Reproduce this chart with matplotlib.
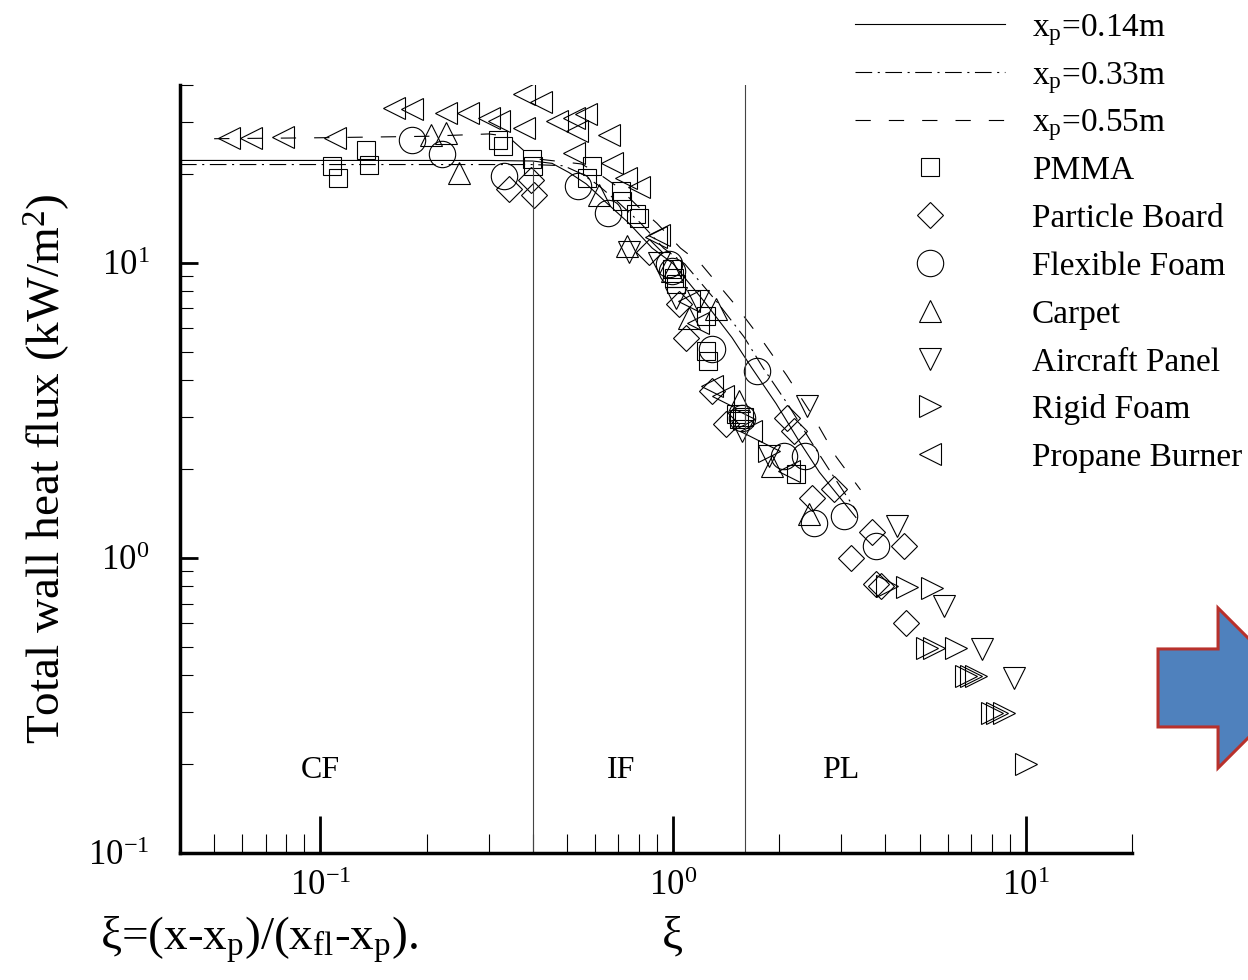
import matplotlib
matplotlib.use('Agg')
import matplotlib.pyplot as plt
from matplotlib.lines import Line2D
from matplotlib.patches import Polygon
from matplotlib.ticker import LogLocator, NullFormatter, FixedLocator, FixedFormatter

plt.rcParams['font.family'] = ['Liberation Serif', 'DejaVu Serif']
plt.rcParams['mathtext.fontset'] = 'custom'
plt.rcParams['mathtext.rm'] = 'Liberation Serif'
plt.rcParams['mathtext.it'] = 'Liberation Serif:italic'
plt.rcParams['lines.scale_dashes'] = False

# model curves (xi, total wall heat flux in kW/m2)
xi_014 = [0.04, 0.1, 0.2, 0.3, 0.4, 0.454, 0.507, 0.567, 0.646, 0.75, 0.873, 1.0, 1.24, 1.47, 1.67, 1.96, 2.27, 2.6, 3.3]
q_014 = [22.2, 22.2, 22.2, 22.2, 22.1, 21.7, 20.2, 18.5, 16.0, 13.6, 11.2, 9.93, 7.26, 5.57, 4.41, 3.33, 2.5, 1.95, 1.37]

xi_033 = [0.04, 0.1, 0.2, 0.3, 0.4, 0.49, 0.55, 0.61, 0.7, 0.81, 0.94, 1.08, 1.34, 1.59, 1.8, 2.12, 2.45, 2.8, 3.3]
q_033 = [21.5, 21.5, 21.5, 21.5, 21.5, 21.3, 20.0, 18.4, 16.0, 13.6, 11.2, 9.9, 7.3, 5.6, 4.4, 3.3, 2.5, 1.95, 1.45]

xi_055 = [0.05, 0.1, 0.2, 0.3, 0.34, 0.38, 0.42, 0.48, 0.55, 0.62, 0.7, 0.8, 0.9, 1.05, 1.2, 1.5, 1.8, 2.1, 2.5, 2.9, 3.4]
q_055 = [26.3, 26.5, 26.8, 27.3, 26.8, 23.8, 22.4, 22.0, 21.6, 19.9, 18.0, 15.4, 13.6, 11.2, 9.9, 7.2, 5.4, 4.15, 3.0, 2.2, 1.7]

# measurements
xi_pmma = [0.108, 0.112, 0.135, 0.137, 0.319, 0.330, 0.399, 0.401, 0.590, 0.571, 0.712, 0.717, 0.786, 0.801,
           0.994, 1.007, 1.02, 1.24, 1.24, 1.26, 1.51, 1.54, 1.59, 2.23]
q_pmma = [21.3, 19.4, 24.0, 21.5, 26.1, 24.9, 22.5, 21.2, 21.3, 19.4, 17.5, 16.2, 14.6, 14.2,
          9.54, 8.89, 8.48, 6.61, 5.03, 4.65, 3.08, 2.96, 3.0, 1.93]

xi_board = [0.343, 0.396, 0.404, 0.855, 1.04, 1.09, 1.29, 1.41, 2.10, 2.20, 2.48, 2.86, 3.19, 3.66, 3.76, 3.88, 4.51, 4.57]
q_board = [17.8, 19.0, 16.9, 10.9, 7.26, 5.57, 3.68, 2.85, 2.98, 2.70, 1.60, 1.71, 1.0, 1.22, 0.817, 0.80, 1.10, 0.60]

xi_flex = [0.182, 0.222, 0.332, 0.538, 0.654, 0.975, 0.994, 1.29, 1.57, 1.73, 2.06, 2.37, 2.51, 3.05, 3.76]
q_flex = [26.1, 23.4, 19.7, 18.2, 14.7, 9.93, 9.4, 5.11, 2.98, 4.30, 2.22, 2.22, 1.31, 1.39, 1.10]

xi_carpet = [0.206, 0.227, 0.248, 0.617, 0.741, 0.994, 1.11, 1.32, 1.54, 1.91, 2.43]
q_carpet = [27.0, 27.4, 20.2, 16.9, 11.4, 9.4, 6.5, 6.98, 3.41, 2.05, 1.41]

xi_panel = [0.750, 0.913, 1.02, 1.18, 1.57, 1.87, 2.40, 4.31, 5.86, 7.50, 9.25]
q_panel = [10.9, 10.0, 7.61, 7.43, 2.70, 2.22, 3.28, 1.28, 0.688, 0.492, 0.392]

xi_rigid = [1.59, 1.87, 4.04, 4.60, 5.42, 5.24, 5.49, 6.34, 6.76, 7.0, 7.25, 8.01, 8.27, 8.66, 10.0]
q_rigid = [2.96, 2.30, 0.80, 0.797, 0.791, 0.495, 0.495, 0.495, 0.398, 0.398, 0.398, 0.298, 0.298, 0.298, 0.2]

xi_propane = [0.0552, 0.0634, 0.0785, 0.110, 0.162, 0.182, 0.227, 0.263, 0.301, 0.321, 0.378, 0.423, 0.378,
              0.469, 0.524, 0.567, 0.535, 0.659, 0.524, 0.672, 0.736, 0.801, 0.895, 0.913, 1.11, 1.18, 1.29,
              1.39, 1.66, 2.13]
q_propane = [26.5, 26.5, 26.7, 26.5, 33.5, 33.2, 32.2, 32.2, 31.0, 30.3, 37.4, 34.9, 28.7,
             30.3, 31.0, 32.0, 28.0, 27.0, 23.6, 21.7, 19.4, 18.0, 12.2, 12.4, 7.43, 6.25, 3.83,
             3.54, 2.70, 1.97]

regime_bounds = [0.4, 1.6]
regime_tops = [22.0, 40.0]
regime_names = ['CF', 'IF', 'PL']
regime_x = [0.1, 0.713, 2.99]
regime_y = 0.19

tick_vals = [0.1, 1, 10]
tick_text = [r'10$^\mathregular{-1}$', r'10$^\mathregular{0}$', r'10$^\mathregular{1}$']

fig = plt.figure(figsize=(12.48, 9.8), dpi=100)
ax = fig.add_axes([0.1442, 0.1296, 0.7628, 0.7837])
ax.set_xscale('log')
ax.set_yscale('log')
ax.set_xlim(0.04, 20)
ax.set_ylim(0.1, 40)

line_styles = [
    (xi_014, q_014, dict(color='k', lw=0.8, ls='-'), r'x$_\mathregular{p}$=0.14m'),
    (xi_033, q_033, dict(color='k', lw=0.8, ls=(0, (12, 4, 1.5, 4))), r'x$_\mathregular{p}$=0.33m'),
    (xi_055, q_055, dict(color='k', lw=0.8, ls=(0, (11, 13))), r'x$_\mathregular{p}$=0.55m'),
]
mk = dict(ls='none', mfc='none', mec='k', mew=0.8)
marker_styles = [
    (xi_pmma, q_pmma, dict(marker='s', ms=13, **mk), 'PMMA'),
    (xi_board, q_board, dict(marker='D', ms=13, **mk), 'Particle Board'),
    (xi_flex, q_flex, dict(marker='o', ms=19, **mk), 'Flexible Foam'),
    (xi_carpet, q_carpet, dict(marker='^', ms=16, **mk), 'Carpet'),
    (xi_panel, q_panel, dict(marker='v', ms=16, **mk), 'Aircraft Panel'),
    (xi_rigid, q_rigid, dict(marker='>', ms=16, **mk), 'Rigid Foam'),
    (xi_propane, q_propane, dict(marker='<', ms=16, **mk), 'Propane Burner'),
]

for xs, ys, st, lab in line_styles + marker_styles:
    ax.plot(xs, ys, **st)

for b, top in zip(regime_bounds, regime_tops):
    ax.plot([b, b], [0.1, top], color='#444444', lw=0.8)
for name, x in zip(regime_names, regime_x):
    ax.text(x, regime_y, name, fontsize=23, ha='center', va='center')

for s in ['top', 'right']:
    ax.spines[s].set_visible(False)
for s in ['left', 'bottom']:
    ax.spines[s].set_linewidth(2.5)

for axis in [ax.xaxis, ax.yaxis]:
    axis.set_major_locator(FixedLocator(tick_vals))
    axis.set_major_formatter(FixedFormatter(tick_text))
    axis.set_minor_locator(LogLocator(base=10, subs=range(2, 10), numticks=20))
    axis.set_minor_formatter(NullFormatter())

ax.tick_params(axis='x', which='major', direction='in', length=27, width=2, labelsize=25, pad=12)
ax.tick_params(axis='x', which='minor', direction='in', length=14, width=0.8)
ax.tick_params(axis='y', which='major', direction='in', length=13, width=2, labelsize=25, pad=22)
ax.tick_params(axis='y', which='minor', direction='in', length=9, width=0.8)

ax.set_ylabel(r'Total wall heat flux (kW/m$^\mathregular{2}$)', fontsize=34)
ax.yaxis.set_label_coords(-0.113, 0.5)

fig.text(672 / 1248, 1 - 948 / 980, '\u03be', fontsize=34, ha='center', va='baseline')
fig.text(100 / 1248, 1 - 950 / 980,
         r'$\mathregular{\xi}$=(x-x$_\mathregular{p}$)/(x$_\mathregular{fl}$-x$_\mathregular{p}$).',
         fontsize=34, ha='left', va='baseline')

# legend laid out row by row, outside the axes at the top right
row0, step = 24, 47.8
for i, (xs, ys, st, lab) in enumerate(line_styles + marker_styles):
    yf = 1 - (row0 + i * step) / 980
    if i < len(line_styles):
        fig.add_artist(Line2D([855 / 1248, 1005 / 1248], [yf, yf], transform=fig.transFigure, **st))
    else:
        fig.add_artist(Line2D([930 / 1248], [yf], transform=fig.transFigure, **st))
    fig.text(1032 / 1248, 1 - (row0 + i * step + 12) / 980, lab, fontsize=24, ha='left', va='baseline')

# decorative arrow at the right edge
arrow = Polygon([(0.9279, 0.3378), (0.9760, 0.3378), (0.9760, 0.3796), (1.0401, 0.2980),
                 (0.9760, 0.2163), (0.9760, 0.2582), (0.9279, 0.2582)], closed=True,
                transform=fig.transFigure, facecolor='#4F81BD', edgecolor='#B8312C', lw=2.2, clip_on=False)
fig.patches.append(arrow)

fig.savefig('out.png', dpi=100)
